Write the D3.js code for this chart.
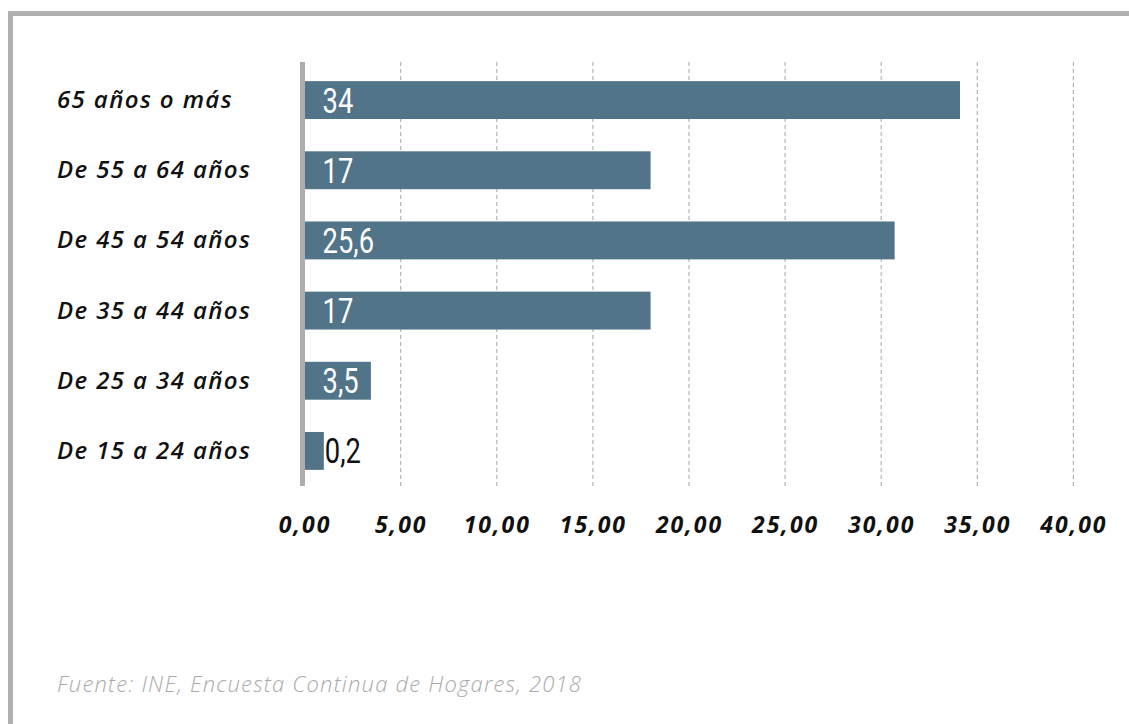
<!DOCTYPE html>
<html>
<head>
<meta charset="utf-8">
<script src="https://cdn.jsdelivr.net/npm/d3@7"></script>
<style>
  body { margin: 0; background: #fff; }
  svg { display: block; }
</style>
</head>
<body>
<div class="canvas"></div>
<script>
// Data
const categories = ['65 años o más', 'De 55 a 64 años', 'De 45 a 54 años', 'De 35 a 44 años', 'De 25 a 34 años', 'De 15 a 24 años']
const barValues = [34.1, 18.0, 30.7, 18.0, 3.45, 1.0]
const barLabels = ['34', '17', '25,6', '17', '3,5', '0,2']
const xTicks = [0, 5, 10, 15, 20, 25, 30, 35, 40]
const source = 'Fuente: INE, Encuesta Continua de Hogares, 2018'

const width = 1129
const height = 724

const svg = d3.select('.canvas')
  .append('svg')
  .attr('width', width)
  .attr('height', height)

// Frame (top and left borders)
svg.append('rect')
  .attr('x', 8).attr('y', 11)
  .attr('width', width - 8).attr('height', 5)
  .attr('fill', '#b0b0b2')
svg.append('rect')
  .attr('x', 8).attr('y', 11)
  .attr('width', 5).attr('height', height - 11)
  .attr('fill', '#b0b0b2')

// Scales
const x = d3.scaleLinear()
  .domain([0, 40])
  .range([304.6, 1073.4])

const y = d3.scaleBand()
  .domain(categories)
  .range([65, 486])
  .paddingInner(0.46)
  .paddingOuter(0.23)

const plotTop = 62
const plotBottom = 486

// Dashed gridlines
svg.append('g')
  .selectAll('line')
  .data(xTicks.filter(d => d > 0))
  .enter()
  .append('line')
  .attr('x1', d => x(d)).attr('x2', d => x(d))
  .attr('y1', plotTop).attr('y2', plotBottom)
  .attr('stroke', '#b4b4b4')
  .attr('stroke-width', 1.2)
  .attr('stroke-dasharray', '4,3')

// Bars
svg.append('g')
  .selectAll('rect')
  .data(barValues)
  .enter()
  .append('rect')
  .attr('x', x(0))
  .attr('y', (d, i) => y(categories[i]))
  .attr('width', d => x(d) - x(0))
  .attr('height', y.bandwidth())
  .attr('fill', '#517489')

// Vertical axis line
svg.append('rect')
  .attr('x', 300).attr('y', plotTop)
  .attr('width', 5).attr('height', plotBottom - plotTop)
  .attr('fill', '#adadaf')

// Value labels (condensed look by squeezing horizontally)
const isShort = d => x(d) - x(0) < 40
svg.append('g')
  .selectAll('text')
  .data(barValues)
  .enter()
  .append('text')
  .attr('transform', (d, i) => {
    const lx = isShort(d) ? x(d) + 1 : x(0) + 18
    const ly = y(categories[i]) + y.bandwidth() / 2 + 12.5
    return `translate(${lx}, ${ly}) scale(0.78, 1)`
  })
  .attr('fill', d => (isShort(d) ? '#111' : '#fff'))
  .style('font-family', 'Roboto, sans-serif')
  .style('font-weight', 400)
  .style('font-size', '35px')
  .text((d, i) => barLabels[i])

// Category labels
svg.append('g')
  .selectAll('text')
  .data(categories)
  .enter()
  .append('text')
  .attr('x', 57)
  .attr('y', d => y(d) + y.bandwidth() / 2 + 8)
  .attr('fill', '#111')
  .style('font-family', '"Open Sans", sans-serif')
  .style('font-style', 'italic')
  .style('font-weight', 600)
  .style('font-size', '24px')
  .style('letter-spacing', '1.4px')
  .text(d => d)

// X axis tick labels
const xAxis = d3.axisBottom(x)
  .tickValues(xTicks)
  .tickSize(0)
  .tickFormat(d => d3.format('.2f')(d).replace('.', ','))

const xAxisGroup = svg.append('g')
  .attr('transform', `translate(0, ${plotBottom})`)
  .call(xAxis)

xAxisGroup.select('.domain').remove()
xAxisGroup.selectAll('text')
  .attr('y', 47)
  .attr('dy', 0)
  .attr('fill', '#111')
  .style('font-family', '"Open Sans", sans-serif')
  .style('font-style', 'italic')
  .style('font-weight', 700)
  .style('font-size', '23px')
  .style('letter-spacing', '2px')

// Source note
svg.append('text')
  .attr('x', 57)
  .attr('y', 692)
  .attr('fill', '#a9a9ab')
  .style('font-family', '"Open Sans", sans-serif')
  .style('font-style', 'italic')
  .style('font-weight', 300)
  .style('font-size', '22px')
  .style('letter-spacing', '1.2px')
  .text(source)
</script>
</body>
</html>
